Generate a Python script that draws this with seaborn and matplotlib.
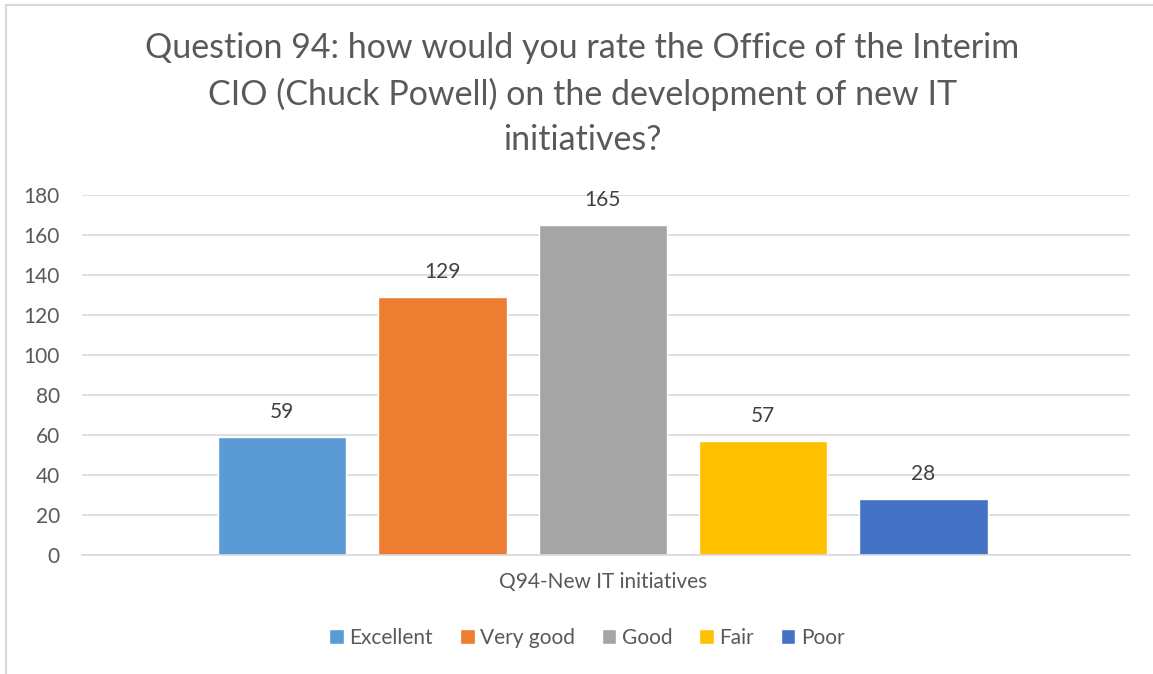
import matplotlib
matplotlib.use("Agg")
import matplotlib.pyplot as plt
import seaborn as sns
import pandas as pd

# data
category = ["Q94-New IT initiatives"]
ratings = ["Excellent", "Very good", "Good", "Fair", "Poor"]
counts = [59, 129, 165, 57, 28]
colors = ["#5B9BD5", "#ED7D31", "#A5A5A5", "#FFC000", "#4472C4"]
yticks = [0, 20, 40, 60, 80, 100, 120, 140, 160, 180]

df = pd.DataFrame({"cat": category * len(ratings), "rating": ratings, "count": counts})

sns.set_style("white")
plt.rcParams['font.family'] = ['Lato', 'DejaVu Sans']
txt = "#595959"

fig = plt.figure(figsize=(11.53, 6.74), dpi=100)
ax = fig.add_axes([82 / 1153, 1 - 555 / 674, (1130 - 82) / 1153, (555 - 195) / 674])

sns.barplot(data=df, x="cat", y="count", hue="rating", palette=colors,
            width=0.765, gap=0.2, saturation=1, ax=ax, legend=True)

for c in ax.containers:
    ax.bar_label(c, padding=11, fontsize=15, color="#404040")

ax.set_xlim(-0.497, 0.503)
ax.set_ylim(0, 180)
ax.set_yticks(yticks)
ax.grid(axis="y", color="#D9D9D9", linewidth=1.2)
ax.set_axisbelow(True)
for s in ["top", "right", "left"]:
    ax.spines[s].set_visible(False)
ax.spines["bottom"].set_color("#D9D9D9")
ax.spines["bottom"].set_linewidth(1.2)
ax.tick_params(axis="both", length=0, labelsize=15, labelcolor=txt)
ax.tick_params(axis="y", pad=16)
ax.tick_params(axis="x", pad=12)
ax.set_xlabel("")
ax.set_ylabel("")

h, l = ax.get_legend_handles_labels()
ax.get_legend().remove()
fig.legend(h, l, loc="center", bbox_to_anchor=(0.509, 1 - 638 / 674), ncol=5,
           frameon=False, fontsize=15, labelcolor=txt, handlelength=0.7,
           handleheight=0.7, handletextpad=0.25, columnspacing=1.3)

fig.text(0.505, 1 - 94 / 674,
         "Question 94: how would you rate the Office of the Interim\n"
         "CIO (Chuck Powell) on the development of new IT\ninitiatives?",
         ha="center", va="center", fontsize=24.5, color=txt, linespacing=1.5)

# chart area border
fig.add_artist(plt.Line2D([6 / 1153, 6 / 1153], [0, 1 - 5 / 674], color="#D9D9D9",
                          linewidth=1.5, transform=fig.transFigure))
fig.add_artist(plt.Line2D([6 / 1153, 1], [1 - 5 / 674, 1 - 5 / 674], color="#D9D9D9",
                          linewidth=1.5, transform=fig.transFigure))

fig.savefig("out.png", dpi=100, facecolor="white")
